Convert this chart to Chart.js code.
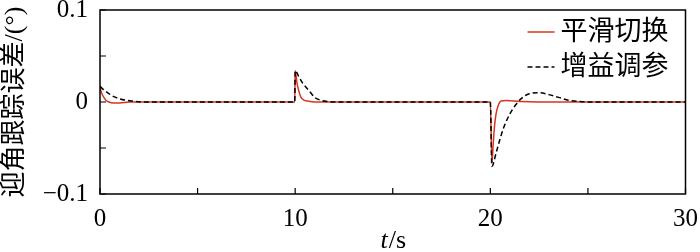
<!DOCTYPE html>
<html>
<head>
<meta charset="utf-8">
<script src="https://cdn.jsdelivr.net/npm/chart.js@4.4.1/dist/chart.umd.min.js"></script>
<style>
  html, body { margin: 0; padding: 0; background: #fff; }
  #wrap { width: 700px; height: 252px; }
</style>
</head>
<body>
<div id="wrap"><canvas id="myChart"></canvas></div>
<script>
// 平滑切换 (red, solid)
const redT = [0, 0.1, 0.2, 0.3, 0.45, 0.7, 1.0, 1.5, 9.98, 10.0, 10.1, 10.2, 10.3, 10.45, 10.65, 11.0, 11.5,
              20.0, 20.08, 20.15, 20.22, 20.3, 20.4, 20.55, 20.8, 21.5, 22.5, 30];
const redV = [0.015, 0.009, 0.005, 0.002, 0.0, -0.001, -0.001, 0, 0, 0.034, 0.020, 0.011, 0.005, 0.002, 0.001, 0, 0,
              0, -0.066, -0.045, -0.025, -0.012, -0.004, 0.001, 0.0015, 0.0005, 0, 0];

// 增益调参 (black, dashed)
const blackT = [0, 0.2, 0.4, 0.6, 0.8, 1.0, 1.3, 1.7, 2.2, 9.98, 10.0, 10.2, 10.4, 10.6, 10.8, 11.0, 11.3, 11.7, 12.2,
                20.0, 20.08, 20.3, 20.5, 20.7, 21.0, 21.3, 21.6, 22.0, 22.5, 23.0, 23.5, 24.0, 24.6, 25.5, 30];
const blackV = [0.017, 0.013, 0.010, 0.007, 0.005, 0.0035, 0.002, 0.001, 0, 0, 0.034, 0.027, 0.020, 0.015, 0.010, 0.005, 0.002, 0.0005, 0,
                0, -0.070, -0.055, -0.040, -0.027, -0.013, -0.003, 0.004, 0.009, 0.010, 0.008, 0.005, 0.002, 0.0005, 0, 0];

const seriesNames = ["平滑切换", "增益调参"];
const xLabels = [0, 10, 20, 30];
const yLabels = [-0.1, 0, 0.1];

const serif = '"Liberation Serif", "Noto Sans CJK SC", serif';

function toPoints(t, v) {
    return t.map((x, i) => ({ x: x, y: v[i] }));
}

// inward ticks, frame, legend and x title
const decor = {
    id: "decor",
    afterDraw(chart) {
        const ctx = chart.ctx;
        const a = chart.chartArea;
        const xs = chart.scales.x;
        const ys = chart.scales.y;
        ctx.save();
        ctx.strokeStyle = "#000";
        ctx.lineWidth = 1.5;
        ctx.strokeRect(a.left, a.top, a.right - a.left, a.bottom - a.top);

        ctx.lineWidth = 1.2;
        ctx.beginPath();
        xs.ticks.forEach(tk => {
            const px = xs.getPixelForValue(tk.value);
            ctx.moveTo(px, a.bottom);
            ctx.lineTo(px, a.bottom - 6);
        });
        ys.ticks.forEach(tk => {
            const py = ys.getPixelForValue(tk.value);
            ctx.moveTo(a.left, py);
            ctx.lineTo(a.left + 6, py);
        });
        ctx.stroke();

        // legend
        const ds = chart.data.datasets;
        const lx = a.right - 158;
        const rows = [a.top + 22, a.top + 57];
        ctx.textBaseline = "middle";
        ctx.font = '27px ' + serif;
        ds.forEach((d, i) => {
            ctx.beginPath();
            ctx.strokeStyle = d.borderColor;
            ctx.lineWidth = 1.5;
            ctx.setLineDash(d.borderDash || []);
            ctx.moveTo(lx, rows[i]);
            ctx.lineTo(lx + 27, rows[i]);
            ctx.stroke();
            ctx.setLineDash([]);
            ctx.fillStyle = "#000";
            ctx.fillText(d.label, lx + 33, rows[i] + 1);
        });

        // x title: italic t + /s
        const cx = (a.left + a.right) / 2;
        const ty = 241;
        ctx.textBaseline = "middle";
        ctx.font = 'italic 26px ' + serif;
        const w1 = ctx.measureText("t").width;
        ctx.font = '26px ' + serif;
        const w2 = ctx.measureText("/s").width;
        const start = cx - (w1 + w2) / 2;
        ctx.font = 'italic 26px ' + serif;
        ctx.fillText("t", start, ty);
        ctx.font = '26px ' + serif;
        ctx.fillText("/s", start + w1 + 1, ty);
        ctx.restore();
    }
};

new Chart("myChart", {
    type: "line",
    data: {
        datasets: [{
            label: seriesNames[0],
            data: toPoints(redT, redV),
            borderColor: "#d9341f",
            borderWidth: 1.5,
            pointRadius: 0,
            cubicInterpolationMode: "monotone",
            order: 1
        }, {
            label: seriesNames[1],
            data: toPoints(blackT, blackV),
            borderColor: "#000",
            borderWidth: 1.5,
            borderDash: [5, 3],
            pointRadius: 0,
            cubicInterpolationMode: "monotone",
            order: 0
        }]
    },
    options: {
        responsive: true,
        maintainAspectRatio: false,
        animation: false,
        layout: { padding: { left: 0, right: 14, top: 0, bottom: 0 } },
        plugins: {
            legend: { display: false },
            tooltip: { enabled: false }
        },
        scales: {
            x: {
                type: "linear",
                min: 0,
                max: 30,
                grid: { display: false },
                border: { display: false },
                afterFit: s => { s.height = 58; },
                ticks: {
                    stepSize: 5,
                    autoSkip: false,
                    maxRotation: 0,
                    padding: 2,
                    color: "#000",
                    font: { family: serif, size: 25 },
                    callback: v => xLabels.includes(v) ? String(v) : ""
                }
            },
            y: {
                min: -0.1,
                max: 0.1,
                grid: {
                    display: true,
                    drawOnChartArea: false,
                    drawTicks: true,
                    tickLength: 12,
                    tickColor: "rgba(0,0,0,0)"
                },
                border: { display: false },
                afterFit: s => { s.width = 100; },
                title: {
                    display: true,
                    text: "迎角跟踪误差/(°)",
                    color: "#000",
                    font: { family: serif, size: 26 },
                    padding: { top: 0, bottom: 0 }
                },
                ticks: {
                    stepSize: 0.05,
                    autoSkip: false,
                    padding: 0,
                    color: "#000",
                    font: { family: serif, size: 25, lineHeight: 0.8 },
                    callback: v => {
                        const r = Math.round(v * 100) / 100;
                        if (!yLabels.includes(r)) return "";
                        return r < 0 ? "\u2212" + Math.abs(r) : String(r);
                    }
                }
            }
        }
    },
    plugins: [decor]
});
</script>
</body>
</html>
